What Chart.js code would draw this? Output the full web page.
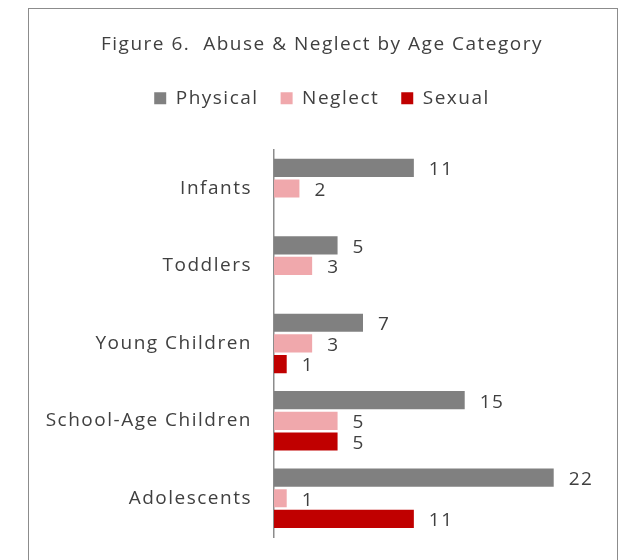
<!DOCTYPE html>
<html lang="en">
<head>
  <meta charset="UTF-8">
  <title>Abuse &amp; Neglect by Age Category</title>
  <script src="https://cdn.jsdelivr.net/npm/chart.js"></script>
  <style>
    body {
      margin: 0;
      background: #fff;
      overflow: hidden;
    }

    #frame {
      position: absolute;
      left: 28px;
      top: 8px;
      width: 588px;
      height: 600px;
      border: 1.5px solid #8c8c8c;
    }

    #ageChart {
      position: absolute;
      left: 0;
      top: 0;
    }
  </style>
</head>
<body>
  <div id="frame"></div>
  <canvas id="ageChart" width="630" height="560"></canvas>

  <script>
    const categories = ["Infants", "Toddlers", "Young Children", "School-Age Children", "Adolescents"];
    const physical = [11, 5, 7, 15, 22];
    const neglect = [2, 3, 3, 5, 1];
    const sexual = [null, null, 1, 5, 11];   // no sexual cases for the two youngest groups

    const textColor = "#404040";
    const fontFamily = "'Open Sans', sans-serif";
    const spacing = "1.5px";

    // the text in this chart is set loosely; canvas state is reset whenever the canvas is sized
    const looseText = {
      id: "looseText",
      afterInit(chart) { chart.ctx.letterSpacing = spacing; },
      beforeUpdate(chart) { chart.ctx.letterSpacing = spacing; },
      beforeDraw(chart) { chart.ctx.letterSpacing = spacing; }
    };

    // value labels just past the end of each bar
    const barValues = {
      id: "barValues",
      afterDatasetsDraw(chart) {
        const ctx = chart.ctx;
        ctx.save();
        ctx.font = "19px " + fontFamily;
        ctx.fillStyle = textColor;
        ctx.textAlign = "left";
        ctx.textBaseline = "middle";
        chart.data.datasets.forEach((ds, i) => {
          const meta = chart.getDatasetMeta(i);
          meta.data.forEach((bar, j) => {
            const v = ds.data[j];
            if (v === null || v === undefined) return;
            ctx.fillText(String(v), bar.x + 15, bar.y + 2);
          });
        });
        ctx.restore();
      }
    };

    // extra room between legend and plot
    const legendGap = {
      id: "legendGap",
      beforeInit(chart) {
        const fit = chart.legend.fit;
        chart.legend.fit = function () {
          fit.bind(chart.legend)();
          this.height += 32;
        };
      }
    };

    const ctx = document.getElementById("ageChart").getContext("2d");
    new Chart(ctx, {
      type: "bar",
      data: {
        labels: categories,
        datasets: [
          { label: "Physical", data: physical, backgroundColor: "#808080" },
          { label: "Neglect", data: neglect, backgroundColor: "#F0A8AC" },
          { label: "Sexual", data: sexual, backgroundColor: "#C00000" }
        ]
      },
      options: {
        indexAxis: "y",
        responsive: false,
        animation: false,
        barPercentage: 0.88,
        categoryPercentage: 0.8,
        layout: {
          padding: { left: 14, right: 0, top: 0, bottom: 23 }
        },
        scales: {
          x: {
            display: false,
            min: 0,
            max: 28
          },
          y: {
            afterFit(scale) {
              scale.width = 260;
              // labels sit inside their bands, no extra room needed above or below
              scale.paddingTop = 0;
              scale.paddingBottom = 0;
            },
            grid: { display: false, drawTicks: false },
            border: { display: true, color: "#8c8c8c", width: 1.5 },
            ticks: {
              padding: 22,
              color: textColor,
              font: { family: fontFamily, size: 19 }
            }
          }
        },
        plugins: {
          title: {
            display: true,
            text: "Figure 6.  Abuse & Neglect by Age Category",
            color: textColor,
            font: { family: fontFamily, size: 19, weight: "normal" },
            padding: { top: 33, bottom: 11 }
          },
          legend: {
            display: true,
            position: "top",
            labels: {
              boxWidth: 12,
              boxHeight: 12,
              padding: 22,
              color: textColor,
              font: { family: fontFamily, size: 19 }
            }
          },
          tooltip: { enabled: false }
        }
      },
      plugins: [looseText, barValues, legendGap]
    });
  </script>
</body>
</html>
